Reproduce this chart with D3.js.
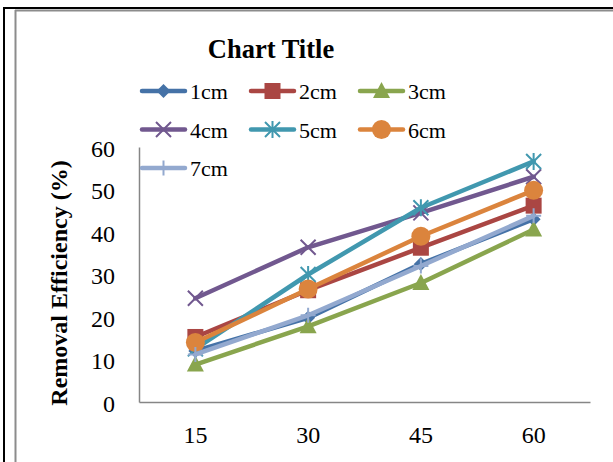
<!DOCTYPE html>
<html><head><meta charset="utf-8">
<script src="https://cdn.jsdelivr.net/npm/d3@7"></script>
<style>html,body{margin:0;padding:0;background:#fff;overflow:hidden}</style>
</head><body>
<svg id="c" width="613" height="462"></svg>
<script>
const categories = ["15", "30", "45", "60"];
const seriesNames = ["1cm", "2cm", "3cm", "4cm", "5cm", "6cm", "7cm"];
const s1cm = [12, 19.8, 32.5, 43];
const s2cm = [15.3, 26.3, 36.3, 46.2];
const s3cm = [8.8, 17.8, 28, 40.6];
const s4cm = [24.4, 36.4, 44.5, 53];
const s5cm = [12.5, 30, 45.7, 56.6];
const s6cm = [14, 26.6, 39, 49.8];
const s7cm = [11.2, 20.4, 32, 43.8];
const yTicks = [0, 10, 20, 30, 40, 50, 60];
const colors = ["#4572A7", "#AA4643", "#89A54E", "#71588F", "#4198AF", "#DB843D", "#93A9CF"];
const markers = ["diamond", "square", "triangle", "x", "asterisk", "circle", "plus"];
const values = [s1cm, s2cm, s3cm, s4cm, s5cm, s6cm, s7cm];

const svg = d3.select("#c");
const serif = "'Liberation Serif','Times New Roman',serif";

// frames
svg.append("line").attr("x1", 3).attr("x2", 613).attr("y1", 8).attr("y2", 8).attr("stroke", "#000").attr("stroke-width", 2);
svg.append("line").attr("x1", 4).attr("x2", 4).attr("y1", 7).attr("y2", 462).attr("stroke", "#000").attr("stroke-width", 2);
svg.append("line").attr("x1", 15).attr("x2", 613).attr("y1", 10.5).attr("y2", 10.5).attr("stroke", "#8c8c8c").attr("stroke-width", 2);
svg.append("line").attr("x1", 15.5).attr("x2", 15.5).attr("y1", 10).attr("y2", 462).attr("stroke", "#8c8c8c").attr("stroke-width", 2);

const x = d3.scaleBand().domain(categories).range([139, 590]);
const y = d3.scaleLinear().domain([0, 60]).range([402, 147]);

// axes
const yAxis = svg.append("g").attr("transform", "translate(139,0)")
  .call(d3.axisLeft(y).tickValues(yTicks).tickSize(0).tickPadding(24));
yAxis.select(".domain").attr("stroke", "#868686").attr("stroke-width", 1.5);
yAxis.selectAll("text").attr("font-family", serif).attr("font-size", 24).attr("fill", "#000").attr("dy", "0.375em");

const xAxis = svg.append("g").attr("transform", "translate(0,402)")
  .call(d3.axisBottom(x).tickSize(0).tickPadding(24));
xAxis.select(".domain").attr("stroke", "#868686").attr("stroke-width", 1.5);
xAxis.selectAll("text").attr("font-family", serif).attr("font-size", 24).attr("fill", "#000");

// title
svg.append("text").attr("x", 271).attr("y", 58).attr("text-anchor", "middle")
  .attr("font-family", serif).attr("font-weight", "bold").attr("font-size", 26.5).text("Chart Title");

// y title
svg.append("text").attr("transform", "translate(67,283) rotate(-90)").attr("text-anchor", "middle")
  .attr("font-family", serif).attr("font-weight", "bold").attr("font-size", 24).text("Removal Efficiency (%)");

function drawMarker(g, type, cx, cy, color) {
  if (type === "diamond") {
    const r = 7;
    g.append("path").attr("d", `M${cx},${cy - r}L${cx + r},${cy}L${cx},${cy + r}L${cx - r},${cy}Z`).attr("fill", color);
  } else if (type === "square") {
    g.append("rect").attr("x", cx - 8).attr("y", cy - 8).attr("width", 16).attr("height", 16).attr("fill", color);
  } else if (type === "triangle") {
    g.append("path").attr("d", `M${cx},${cy - 9}L${cx + 8.5},${cy + 7}L${cx - 8.5},${cy + 7}Z`).attr("fill", color);
  } else if (type === "circle") {
    g.append("circle").attr("cx", cx).attr("cy", cy).attr("r", 9.5).attr("fill", color);
  } else if (type === "x") {
    const r = 7.5;
    g.append("path").attr("d", `M${cx - r},${cy - r}L${cx + r},${cy + r}M${cx + r},${cy - r}L${cx - r},${cy + r}`)
      .attr("stroke", color).attr("stroke-width", 2);
  } else if (type === "asterisk") {
    const r = 7.5;
    g.append("path").attr("d", `M${cx - r},${cy - r}L${cx + r},${cy + r}M${cx + r},${cy - r}L${cx - r},${cy + r}M${cx},${cy - r - 1}L${cx},${cy + r + 1}`)
      .attr("stroke", color).attr("stroke-width", 2);
  } else if (type === "plus") {
    const r = 7.5;
    g.append("path").attr("d", `M${cx},${cy - r}L${cx},${cy + r}M${cx - r},${cy}L${cx + r},${cy}`)
      .attr("stroke", color).attr("stroke-width", 2);
  }
}

const line = d3.line().x((d, i) => x(categories[i]) + x.bandwidth() / 2).y(d => y(d));
values.forEach((vals, si) => {
  const g = svg.append("g");
  g.append("path").attr("d", line(vals)).attr("fill", "none").attr("stroke", colors[si])
    .attr("stroke-width", 4.5).attr("stroke-linejoin", "round").attr("stroke-linecap", "round");
  vals.forEach((v, i) => drawMarker(g, markers[si], x(categories[i]) + x.bandwidth() / 2, y(v), colors[si]));
});

// legend
const legCols = [140, 249, 358];
const legRows = [91, 129.5, 168];
seriesNames.forEach((name, i) => {
  const lx = legCols[i % 3], ly = legRows[Math.floor(i / 3)];
  const g = svg.append("g");
  g.append("line").attr("x1", lx + 2).attr("x2", lx + 45).attr("y1", ly).attr("y2", ly)
    .attr("stroke", colors[i]).attr("stroke-width", 4.5).attr("stroke-linecap", "round");
  drawMarker(g, markers[i], lx + 23.5, ly, colors[i]);
  g.append("text").attr("x", lx + 50).attr("y", ly + 8).attr("font-family", serif).attr("font-size", 22).text(name);
});
</script>
</body></html>
